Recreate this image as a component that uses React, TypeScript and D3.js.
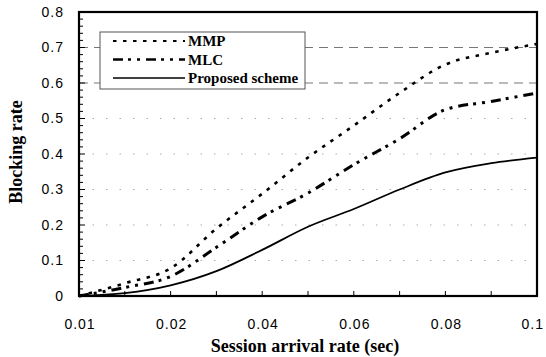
import React from "react";
import * as d3 from "d3";

const categories = [0.01, 0.015, 0.02, 0.03, 0.04, 0.05, 0.06, 0.07, 0.08, 0.09, 0.1];
const categoryLabels = ["0.01", "", "0.02", "", "0.04", "", "0.06", "", "0.08", "", "0.1"];
const mmp = [0, 0.036, 0.078, 0.19, 0.288, 0.39, 0.48, 0.572, 0.652, 0.685, 0.71];
const mlc = [0, 0.024, 0.055, 0.137, 0.223, 0.29, 0.37, 0.443, 0.525, 0.548, 0.572];
const proposed = [0, 0.008, 0.03, 0.07, 0.13, 0.195, 0.245, 0.3, 0.348, 0.374, 0.39];
const yTicks = [0, 0.1, 0.2, 0.3, 0.4, 0.5, 0.6, 0.7, 0.8];
const yTickLabels = ["0", "0.1", "0.2", "0.3", "0.4", "0.5", "0.6", "0.7", "0.8"];
const seriesNames = ["MMP", "MLC", "Proposed scheme"];

const W = 546, H = 357;
const L = 79, R = 537, T = 12, B = 296;

export default function App() {
  const x = d3.scalePoint<number>().domain(categories.map((_, i) => i)).range([L, R]);
  const y = d3.scaleLinear().domain([0, 0.8]).range([B, T]);
  const line = d3
    .line<number>()
    .x((_, i) => x(i) as number)
    .y((d) => y(d))
    .curve(d3.curveMonotoneX);

  const styles = [
    { dash: "3.5,6.5", width: 2.6 },
    { dash: "10,5,3,6,3,6", width: 3 },
    { dash: "", width: 1.8 },
  ];
  const data = [mmp, mlc, proposed];
  const minorY = d3.range(0, 0.8001, 0.02);
  const serif = "'Liberation Serif', 'Times New Roman', serif";
  const sans = "'Liberation Sans', Arial, sans-serif";
  const last = categories.length - 1;

  return (
    <svg width={W} height={H} style={{ position: "absolute", left: 0, top: 0, background: "#fff" }}>
      <rect x={0} y={0} width={W} height={H} fill="#fff" />
      {yTicks.slice(1, 8).map((t, i) => {
        const dashed = t > 0.55;
        return (
          <line
            key={"g" + i}
            x1={L}
            x2={R}
            y1={y(t)}
            y2={y(t)}
            stroke={dashed ? "#777" : "#aaa"}
            strokeWidth={1}
            strokeDasharray={dashed ? "9,6" : "1.5,12"}
          />
        );
      })}
      {data.map((d, i) => (
        <path
          key={"s" + i}
          d={line(d) || ""}
          fill="none"
          stroke="#000"
          strokeWidth={styles[i].width}
          strokeDasharray={styles[i].dash}
        />
      ))}
      <rect x={L} y={T} width={R - L} height={B - T} fill="none" stroke="#000" strokeWidth={2.2} />
      {minorY.map((t, i) => (
        <line key={"ym" + i} x1={L} x2={L + (i % 5 === 0 ? 6 : 4)} y1={y(t)} y2={y(t)} stroke="#000" strokeWidth={1} />
      ))}
      {categories.map((_, i) => (
        <line key={"xt" + i} x1={x(i)} x2={x(i)} y1={B} y2={B - 5} stroke="#000" strokeWidth={1} />
      ))}
      {yTicks.map((t, i) => (
        <text
          key={"yl" + i}
          x={64}
          y={y(t)}
          dy="0.35em"
          textAnchor="end"
          fontFamily={sans}
          fontSize={14}
          letterSpacing={1}
          fill="#000"
        >
          {yTickLabels[i]}
        </text>
      ))}
      {categories.map((_, i) =>
        categoryLabels[i] ? (
          <text
            key={"xl" + i}
            x={i === last ? W - 2 : (x(i) as number) + 1}
            y={329}
            textAnchor={i === last ? "end" : "middle"}
            fontFamily={sans}
            fontSize={14}
            letterSpacing={1}
            fill="#000"
          >
            {categoryLabels[i]}
          </text>
        ) : null
      )}
      <text x={305} y={352} textAnchor="middle" fontFamily={serif} fontSize={18} fontWeight="bold" fill="#000">
        Session arrival rate (sec)
      </text>
      <text
        transform={`translate(22,152) rotate(-90)`}
        textAnchor="middle"
        fontFamily={serif}
        fontSize={18}
        fontWeight="bold"
        fill="#000"
      >
        Blocking rate
      </text>
      <rect x={100} y={32} width={205} height={57} fill="#fff" stroke="#555" strokeWidth={1} />
      {seriesNames.map((n, i) => {
        const ly = 41 + i * 18.5;
        return (
          <g key={"lg" + i}>
            <line
              x1={113}
              x2={185}
              y1={ly}
              y2={ly}
              stroke="#000"
              strokeWidth={styles[i].width * 0.8}
              strokeDasharray={styles[i].dash}
            />
            <text x={188} y={ly + 5} fontFamily={serif} fontSize={15} fontWeight="bold" fill="#000">
              {n}
            </text>
          </g>
        );
      })}
    </svg>
  );
}
